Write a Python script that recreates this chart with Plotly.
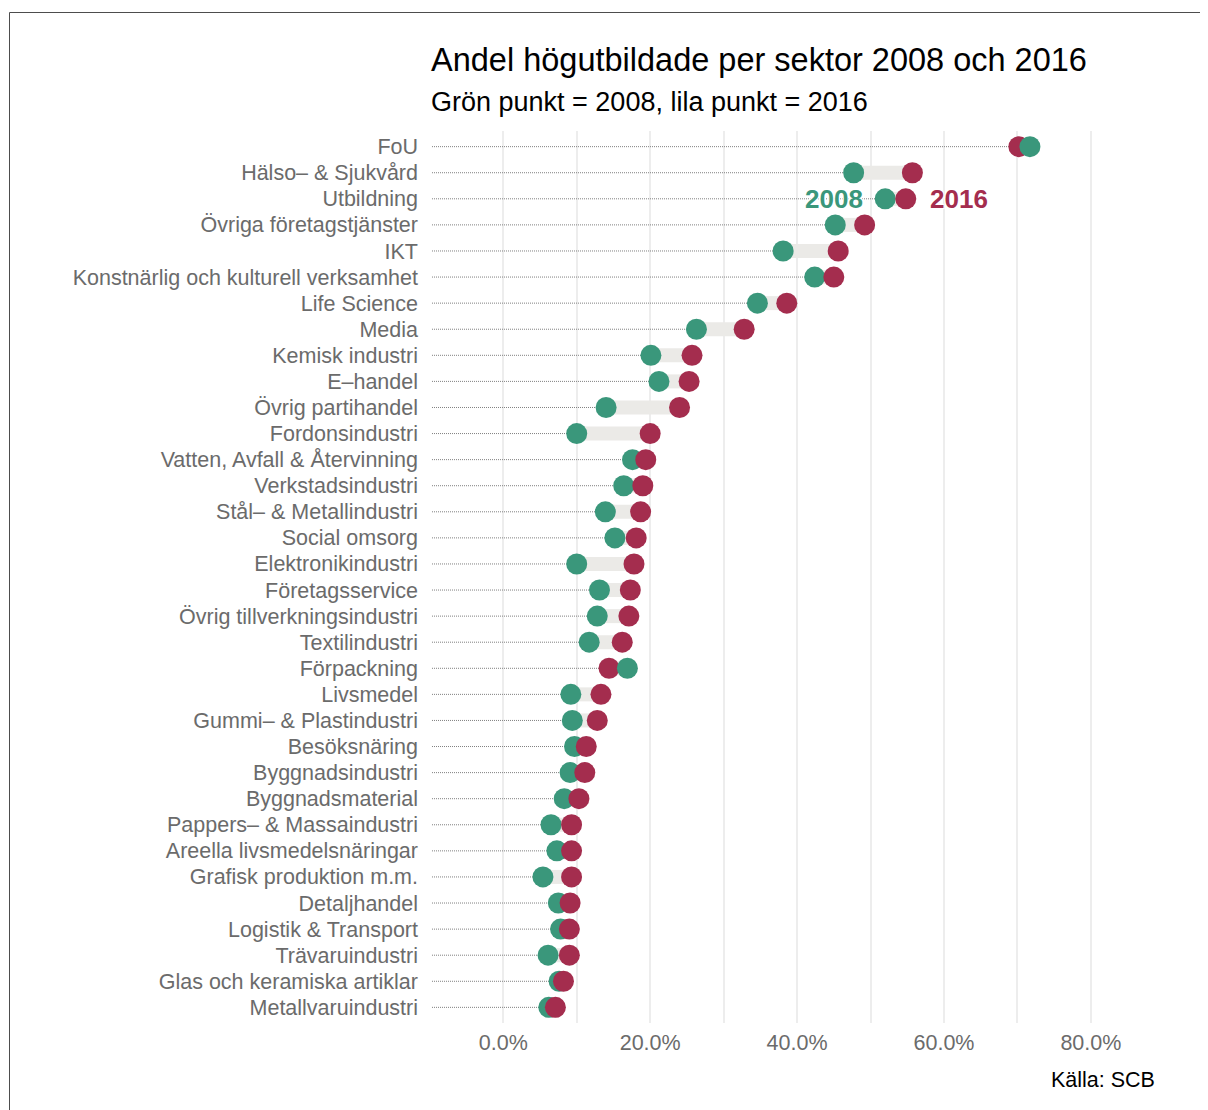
import plotly.graph_objects as go

sectors = [
    "FoU", "Hälso– & Sjukvård", "Utbildning", "Övriga företagstjänster", "IKT",
    "Konstnärlig och kulturell verksamhet", "Life Science", "Media", "Kemisk industri",
    "E–handel", "Övrig partihandel", "Fordonsindustri", "Vatten, Avfall & Återvinning",
    "Verkstadsindustri", "Stål– & Metallindustri", "Social omsorg", "Elektronikindustri",
    "Företagsservice", "Övrig tillverkningsindustri", "Textilindustri", "Förpackning",
    "Livsmedel", "Gummi– & Plastindustri", "Besöksnäring", "Byggnadsindustri",
    "Byggnadsmaterial", "Pappers– & Massaindustri", "Areella livsmedelsnäringar",
    "Grafisk produktion m.m.", "Detaljhandel", "Logistik & Transport", "Trävaruindustri",
    "Glas och keramiska artiklar", "Metallvaruindustri",
]
v2008 = [71.7, 47.7, 52.0, 45.2, 38.1, 42.4, 34.6, 26.3, 20.1, 21.2, 14.0, 10.0, 17.6,
         16.4, 13.9, 15.2, 10.0, 13.1, 12.8, 11.7, 16.9, 9.2, 9.4, 9.7, 9.1, 8.3, 6.5,
         7.3, 5.4, 7.5, 7.8, 6.1, 7.6, 6.2]
v2016 = [70.2, 55.7, 54.8, 49.2, 45.6, 45.0, 38.6, 32.8, 25.7, 25.3, 24.0, 20.0, 19.4,
         19.0, 18.7, 18.1, 17.8, 17.3, 17.1, 16.2, 14.4, 13.3, 12.8, 11.3, 11.1, 10.3, 9.3,
         9.3, 9.3, 9.1, 9.0, 9.0, 8.2, 7.1]
x_ticks = [0, 20, 40, 60, 80]
x_tick_labels = [f"{v:.1f}%" for v in x_ticks]

GREEN = "#3A977B"
RED = "#A42D4E"
FONT = "Liberation Sans, Arial, Helvetica, sans-serif"
X_MIN, X_MAX = -9.7, 89.0

# figure coordinates (page is offset by the 8px body margin)
W, H = 1200, 1102
ML, MR, MT, MB = 424, 51, 123, 87
PW, PH = W - ML - MR, H - MT - MB


def px(x):
    return (x - ML) / PW


def py(y):
    return (H - MB - y) / PH


fig = go.Figure()

# dotted guide lines from panel edge to the lower value
gx, gy = [], []
for s, a, b in zip(sectors, v2008, v2016):
    gx += [X_MIN, min(a, b), None]
    gy += [s, s, None]
fig.add_trace(go.Scatter(x=gx, y=gy, mode="lines",
                         line=dict(color="#808080", width=1, dash="1px,1px"),
                         hoverinfo="skip", showlegend=False))

# grey connecting segments
sx, sy = [], []
for s, a, b in zip(sectors, v2008, v2016):
    sx += [a, b, None]
    sy += [s, s, None]
fig.add_trace(go.Scatter(x=sx, y=sy, mode="lines",
                         line=dict(color="#EBEAE7", width=14),
                         hoverinfo="skip", showlegend=False))

lo_x = [min(a, b) for a, b in zip(v2008, v2016)]
lo_c = [GREEN if a <= b else RED for a, b in zip(v2008, v2016)]
hi_x = [max(a, b) for a, b in zip(v2008, v2016)]
hi_c = [RED if a <= b else GREEN for a, b in zip(v2008, v2016)]

fig.add_trace(go.Scatter(x=lo_x, y=sectors, mode="markers",
                         marker=dict(size=21, color=lo_c, line=dict(width=0)),
                         showlegend=False))
fig.add_trace(go.Scatter(x=hi_x, y=sectors, mode="markers",
                         marker=dict(size=21, color=hi_c, line=dict(width=0)),
                         showlegend=False))

halo = "1px 1px 1px white, -1px -1px 1px white, 1px -1px 1px white, -1px 1px 1px white"
annotations = [
    dict(x=45.0, y="Utbildning", xref="x", yref="y", text="<b>2008</b>", showarrow=False,
         font=dict(family=FONT, size=26, color=GREEN, shadow=halo), xanchor="center", yanchor="middle"),
    dict(x=62.0, y="Utbildning", xref="x", yref="y", text="<b>2016</b>", showarrow=False,
         font=dict(family=FONT, size=26, color=RED, shadow=halo), xanchor="center", yanchor="middle"),
    dict(x=px(421), y=py(52), xref="paper", yref="paper", text="Andel högutbildade per sektor 2008 och 2016",
         showarrow=False, xanchor="left", yanchor="middle", font=dict(family=FONT, size=32.5, color="#000")),
    dict(x=px(421), y=py(94), xref="paper", yref="paper", text="Grön punkt = 2008, lila punkt = 2016",
         showarrow=False, xanchor="left", yanchor="middle", font=dict(family=FONT, size=27, color="#000")),
    dict(x=1, y=py(1072), xref="paper", yref="paper", text="Källa: SCB",
         showarrow=False, xanchor="right", yanchor="middle", font=dict(family=FONT, size=21.5, color="#000")),
]

shapes = [
    dict(type="line", xref="paper", yref="paper", x0=px(1.5), x1=px(1.5), y0=py(4.5), y1=py(1300),
         line=dict(color="#4d4d4d", width=1)),
    dict(type="line", xref="paper", yref="paper", x0=px(1.5), x1=px(1400), y0=py(4.5), y1=py(4.5),
         line=dict(color="#4d4d4d", width=1)),
]

fig.update_layout(
    width=W, height=H,
    margin=dict(l=ML, r=MR, t=MT, b=MB, pad=0),
    paper_bgcolor="white", plot_bgcolor="white",
    font=dict(family=FONT, size=21.5, color="#6B6B6B"),
    showlegend=False,
    annotations=annotations,
    shapes=shapes,
    xaxis=dict(range=[X_MIN, X_MAX], tickvals=x_ticks, ticktext=x_tick_labels,
               showgrid=True, gridcolor="#EDEDED", gridwidth=1.5, zeroline=False,
               showline=False, ticks="", ticklabelstandoff=4,
               tickfont=dict(family=FONT, size=21.5, color="#6B6B6B"),
               minor=dict(dtick=10, tick0=0, showgrid=True, gridcolor="#EDEDED", gridwidth=1.5)),
    yaxis=dict(type="category", categoryorder="array", categoryarray=sectors,
               range=[len(sectors) - 0.4, -0.6], showgrid=False, zeroline=False, showline=False,
               ticks="", ticklabelstandoff=13,
               tickfont=dict(family=FONT, size=21.5, color="#6B6B6B")),
)

fig.write_html("out.html")
